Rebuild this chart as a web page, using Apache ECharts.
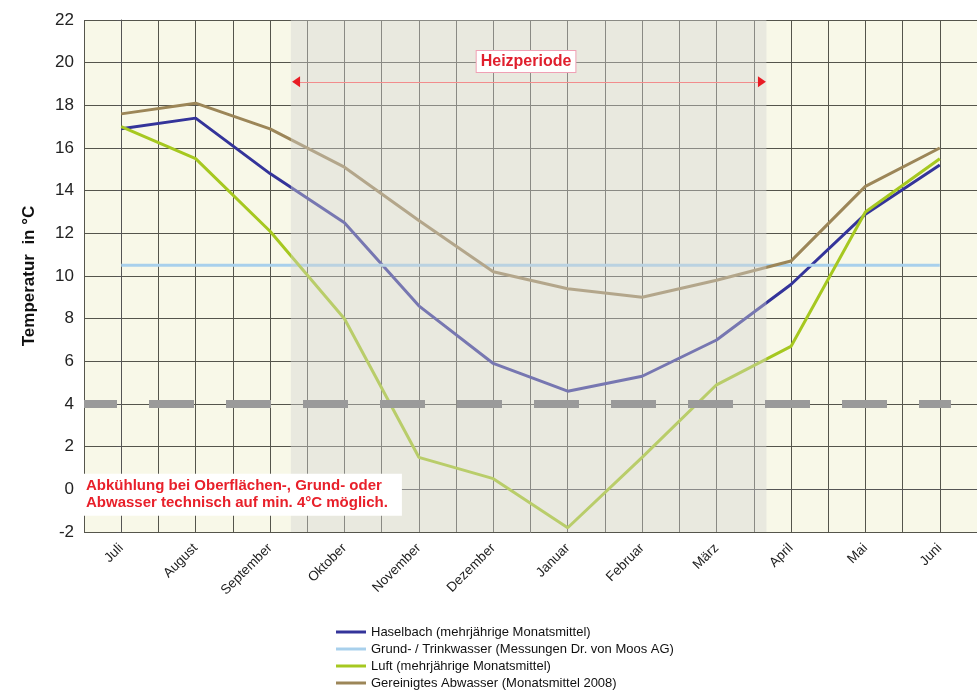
<!DOCTYPE html>
<html><head><meta charset="utf-8">
<script src="https://cdn.jsdelivr.net/npm/echarts@6/dist/echarts.min.js"></script>
<style>html,body{margin:0;padding:0;background:#fff}#c{width:977px;height:693px}</style>
</head><body><div id="c"></div>
<script>
const months = ['Juli','August','September','Oktober','November','Dezember','Januar','Februar','März','April','Mai','Juni'];
const haselbach = [16.9,17.4,14.8,12.5,8.6,5.9,4.6,5.3,7.0,9.6,12.9,15.2];
const grundwasser = [10.5,10.5,10.5,10.5,10.5,10.5,10.5,10.5,10.5,10.5,10.5,10.5];
const luft = [17.0,15.5,12.1,8.0,1.5,0.5,-1.8,1.5,4.9,6.7,13.0,15.5];
const abwasser = [17.6,18.1,16.9,15.1,12.6,10.2,9.4,9.0,9.8,10.7,14.2,16.0];
const seriesNames = ['Haselbach (mehrjährige Monatsmittel)','Grund- / Trinkwasser (Messungen Dr. von Moos AG)','Luft (mehrjährige Monatsmittel)','Gereinigtes Abwasser (Monatsmittel 2008)'];
const yMin = -2, yMax = 22, yStep = 2;
// Heizperiode span in month-index units
const heizStart = 2.28, heizEnd = 8.67;
const heizArrowStart = 2.35, heizArrowEnd = 8.61, heizArrowY = 19.1;
const heizLabel = 'Heizperiode';
const heizLabelPos = [5.44, 20.05];
const minTemp = 4;
const minTempSpan = [-0.5, 11.15];
const noteText = 'Abkühlung bei Oberflächen-, Grund- oder\nAbwasser technisch auf min. 4°C möglich.';
const notePos = [-0.5, -0.25];

const chart = echarts.init(document.getElementById('c'), null, {renderer:'canvas'});
const FONT = 'Liberation Sans, Arial, sans-serif';
const colors = ['#34349a','#a8d0ec','#a6c820','#9c8658'];

function lineSeries(name, data, color){
  return {name, type:'line', data, xAxisIndex:0, yAxisIndex:0, symbol:'none', z:3,
    lineStyle:{color, width:3}, itemStyle:{color}};
}

chart.setOption({
  animation:false,
  textStyle:{fontFamily:FONT},
  grid:{left:84, right:-7, top:20, bottom:161, show:true, backgroundColor:'#f8f8e8', borderWidth:0},
  legend:{
    orient:'vertical', left:336, top:624, padding:0, itemGap:1, itemWidth:30, itemHeight:3, icon:'rect',
    textStyle:{fontSize:13, color:'#111', fontFamily:FONT, lineHeight:16},
    data:seriesNames
  },
  xAxis:[
    {type:'category', data:months, boundaryGap:true,
     axisLine:{show:true, lineStyle:{color:'#555', width:1}},
     axisTick:{show:true, length:5, lineStyle:{color:'#555'}},
     axisLabel:{rotate:45, fontSize:13.5, color:'#222', margin:14, interval:0, fontFamily:FONT},
     splitLine:{show:false}},
    {type:'value', min:-0.5, max:11.5, interval:0.5, position:'bottom',
     axisLine:{show:false}, axisTick:{show:false}, axisLabel:{show:false},
     splitLine:{show:true, lineStyle:{color:'#55554c', width:1}}}
  ],
  yAxis:[{type:'value', min:yMin, max:yMax, interval:yStep,
    name:'Temperatur  in °C', nameLocation:'middle', nameGap:46, nameRotate:90,
    nameTextStyle:{fontSize:17, fontWeight:'bold', color:'#111', fontFamily:FONT},
    axisLine:{show:true, lineStyle:{color:'#555'}},
    axisTick:{show:true, length:5, lineStyle:{color:'#555'}},
    axisLabel:{fontSize:17, color:'#222', margin:10, fontFamily:FONT},
    splitLine:{show:true, lineStyle:{color:'#55554c', width:1}}}],
  series:[
    lineSeries(seriesNames[0], haselbach, colors[0]),
    lineSeries(seriesNames[1], grundwasser, colors[1]),
    lineSeries(seriesNames[2], luft, colors[2]),
    lineSeries(seriesNames[3], abwasser, colors[3]),
    {type:'line', name:'_shade', xAxisIndex:1, data:[], z:5, silent:true,
     markArea:{silent:true, z:5, itemStyle:{color:'rgba(212,212,210,0.42)'},
       data:[[{xAxis:heizStart},{xAxis:heizEnd}]]}},
    {type:'line', name:'_notes', xAxisIndex:1, data:[], z:8, clip:false, silent:true,
     markLine:{silent:true, z:8, symbol:['none','none'], label:{show:false},
       lineStyle:{color:'#9a9a9a', width:8, type:[45,32], dashOffset:12, opacity:1},
       data:[[{coord:[minTempSpan[0],minTemp]},{coord:[minTempSpan[1],minTemp]}]]}},
    {type:'line', name:'_heiz', xAxisIndex:1, data:[], z:9, clip:false, silent:true,
     markLine:{silent:true, z:9, symbol:['none','none'], label:{show:false},
       lineStyle:{color:'#f28c8c', width:1, type:'solid', opacity:1},
       data:[[{coord:[heizArrowStart,heizArrowY]},{coord:[heizArrowEnd,heizArrowY]}]]},
     markPoint:{silent:true, z:10, symbol:'rect', symbolSize:0,
       data:[
        {coord:[heizArrowStart,heizArrowY], symbol:'triangle', symbolSize:[11,8], symbolRotate:90,
         itemStyle:{color:'#e81c24'}, label:{show:false}},
        {coord:[heizArrowEnd,heizArrowY], symbol:'triangle', symbolSize:[11,8], symbolRotate:-90,
         itemStyle:{color:'#e81c24'}, label:{show:false}},
        {coord:heizLabelPos, value:heizLabel,
         label:{show:true, position:'inside', formatter:heizLabel, color:'#e01f2d', fontWeight:'bold', fontSize:16,
           fontFamily:FONT, backgroundColor:'#fff', borderColor:'#f0a0b4', borderWidth:1, padding:[3,4,2,4]}},
        {coord:notePos, value:'note',
         label:{show:true, position:'right', distance:0, offset:[-6,0], formatter:noteText, color:'#e8202a',
           fontWeight:'bold', fontSize:15, lineHeight:17, align:'left', fontFamily:FONT,
           backgroundColor:'#fff', padding:[4,14,4,8]}}
       ]}}
  ]
});
</script></body></html>
